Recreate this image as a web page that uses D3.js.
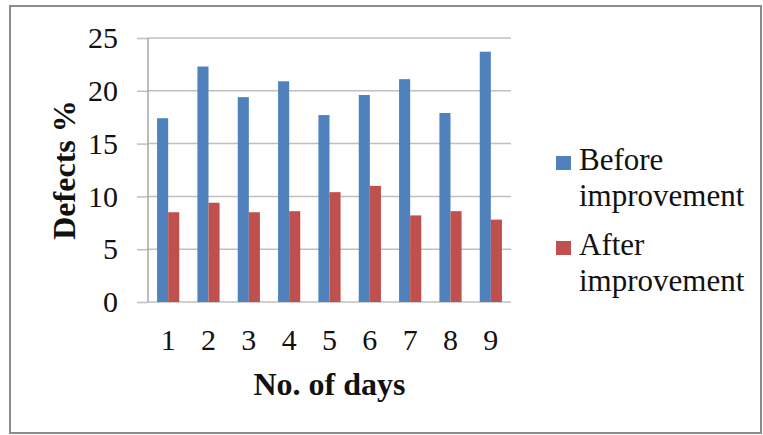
<!DOCTYPE html>
<html><head><meta charset="utf-8">
<script src="https://cdn.jsdelivr.net/npm/d3@7"></script>
<style>body{margin:0;background:#fff}svg{display:block}text,tspan{font-family:"Liberation Serif","Times New Roman",serif}</style>
</head><body>
<script>
const days = ["1","2","3","4","5","6","7","8","9"];
const before = [17.4, 22.3, 19.4, 20.9, 17.7, 19.6, 21.1, 17.9, 23.7];
const after = [8.5, 9.4, 8.5, 8.6, 10.4, 11.0, 8.2, 8.6, 7.8];
const seriesNames = [["Before", "improvement"], ["After", "improvement"]];
const colors = ["#4F81BD", "#C0504D"];
const yTicks = [0, 5, 10, 15, 20, 25];

(function () {
const W = 763, H = 435;
const svg = d3.select("body").append("svg").attr("width", W).attr("height", H);
svg.append("rect").attr("x", 10).attr("y", 6).attr("width", 751).attr("height", 427)
  .attr("fill", "#fff").attr("stroke", "#8c8c8c").attr("stroke-width", 2);

const pLeft = 148, pRight = 511, pTop = 38, pBottom = 302;
const x = d3.scaleBand().domain(days).range([pLeft, pRight]).paddingInner(0.45).paddingOuter(0.225);
const x1 = d3.scaleBand().domain([0, 1]).range([0, x.bandwidth()]);
const y = d3.scaleLinear().domain([0, 25]).range([pBottom, pTop]);

const yAxis = d3.axisLeft(y).tickValues(yTicks).tickSize(11).tickPadding(19);
const gy = svg.append("g").attr("transform", `translate(${pLeft},0)`).call(yAxis);
gy.select(".domain").remove();
gy.selectAll(".tick line").attr("stroke", "#bfbfbf").attr("stroke-width", 1.5);
gy.selectAll(".tick text").style("font-family", "Liberation Serif").attr("font-size", 30).attr("fill", "#111");
svg.append("g").selectAll("line").data(yTicks).join("line")
  .attr("x1", pLeft).attr("x2", pRight).attr("y1", d => y(d)).attr("y2", d => y(d))
  .attr("stroke", "#bfbfbf").attr("stroke-width", 1.5);
svg.append("line").attr("x1", pLeft).attr("x2", pLeft).attr("y1", pTop).attr("y2", pBottom).attr("stroke", "#a6a6a6").attr("stroke-width", 1.5);

const data = days.map((d, i) => ({day: d, vals: [before[i], after[i]]}));
const groups = svg.append("g").selectAll("g").data(data).join("g")
  .attr("transform", d => `translate(${x(d.day)},0)`);
groups.selectAll("rect").data(d => d.vals.map((v, k) => ({v, k}))).join("rect")
  .attr("x", d => x1(d.k)).attr("width", x1.bandwidth())
  .attr("y", d => y(d.v)).attr("height", d => y(0) - y(d.v))
  .attr("fill", d => colors[d.k]);

const xAxis = d3.axisBottom(x).tickSize(0).tickPadding(27);
const gx = svg.append("g").attr("transform", `translate(0,${pBottom})`).call(xAxis);
gx.select(".domain").remove();
gx.selectAll(".tick text").style("font-family", "Liberation Serif").attr("font-size", 30).attr("fill", "#111");

svg.append("text").attr("x", (pLeft + pRight) / 2).attr("y", 395).attr("text-anchor", "middle")
  .attr("font-weight", "bold").attr("font-size", 32).attr("fill", "#111")
  .text("No. of days");
svg.append("text").attr("transform", `translate(75,${(pTop + pBottom) / 2}) rotate(-90)`).attr("text-anchor", "middle")
  .attr("font-weight", "bold").attr("font-size", 32).attr("fill", "#111")
  .text("Defects %");

const leg = svg.append("g").selectAll("g").data(seriesNames).join("g")
  .attr("transform", (d, i) => `translate(556,${170 + i * 85})`);
leg.append("rect").attr("x", 0).attr("y", -14).attr("width", 15).attr("height", 14).attr("fill", (d, i) => colors[i]);
leg.append("text").attr("font-size", 31).attr("fill", "#111")
  .selectAll("tspan").data(d => d).join("tspan").attr("x", 23).attr("dy", (d, i) => i === 0 ? 0 : 36).text(d => d);
})();
</script>
</body></html>
